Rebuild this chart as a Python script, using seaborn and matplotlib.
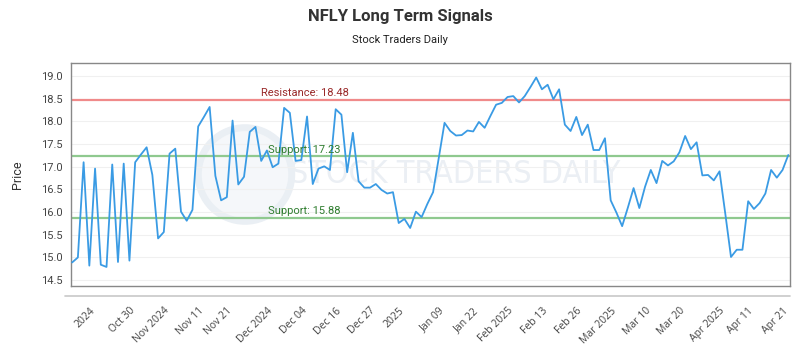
import matplotlib
matplotlib.use("Agg")
import matplotlib.pyplot as plt
from matplotlib.lines import Line2D
from matplotlib.patches import Ellipse
import numpy as np
import pandas as pd
import seaborn as sns

# ---- data ----
prices = [
    14.89, 15.00, 17.10, 14.82, 16.96, 14.84, 14.79, 17.05, 14.90, 17.07, 14.93,
    17.10, 17.27, 17.43, 16.82, 15.42, 15.56, 17.29, 17.40, 16.01, 15.81,
    16.05, 17.89, 18.10, 18.32, 16.80, 16.26, 16.33, 18.02, 16.61, 16.78, 17.77,
    17.88, 17.13, 17.36, 16.99, 17.07, 18.30, 18.19, 17.13, 17.15, 18.11,
    16.62, 16.96, 17.01, 16.93, 18.27, 18.15, 16.88, 17.75, 16.68, 16.54, 16.54,
    16.62, 16.49, 16.41, 16.44, 15.76, 15.85, 15.65, 16.01, 15.89, 16.18,
    16.44, 17.20, 17.97, 17.79, 17.69, 17.70, 17.80, 17.78, 17.99, 17.86, 18.12,
    18.37, 18.41, 18.54, 18.56, 18.42, 18.56, 18.76, 18.97, 18.71, 18.81,
    18.49, 18.71, 17.93, 17.79, 18.10, 17.70, 17.93, 17.37, 17.37, 17.63, 16.26,
    15.99, 15.69, 16.10, 16.53, 16.09, 16.56, 16.93, 16.64, 17.13, 17.03,
    17.12, 17.32, 17.68, 17.39, 17.54, 16.81, 16.82, 16.70, 16.90, 15.97, 15.01,
    15.17, 15.17, 16.24, 16.07, 16.20, 16.41, 16.93, 16.76, 16.93, 17.26,
]
tick_labels = ["2024", "Oct 30", "Nov 2024", "Nov 11", "Nov 21", "Dec 2024",
               "Dec 04", "Dec 16", "Dec 27", "2025", "Jan 09", "Jan 22",
               "Feb 2025", "Feb 13", "Feb 26", "Mar 2025", "Mar 10", "Mar 20",
               "Apr 2025", "Apr 11", "Apr 21"]
tick_index = [3, 10, 16, 22, 27, 34, 40, 46, 52, 57, 64, 70, 76, 82, 88, 94,
              100, 106, 113, 118, 124]
resistance = 18.48
supports = [17.23, 15.88]
y_ticks = [14.5, 15.0, 15.5, 16.0, 16.5, 17.0, 17.5, 18.0, 18.5, 19.0]

df = pd.DataFrame({"idx": np.arange(len(prices)), "price": prices})

sns.set_theme(style="white")
plt.rcParams["font.family"] = ["Roboto", "DejaVu Sans"]

fig = plt.figure(figsize=(8, 3.5), dpi=100)
ax = fig.add_axes([71 / 800, 1 - 286 / 350, 719 / 800, 223 / 350])

# faint watermark
ax.text(0.535, 0.5, "STOCK TRADERS DAILY", transform=ax.transAxes,
        fontsize=23, color="#ebeff4", ha="center", va="center",
        fontstretch="condensed", zorder=0, family=["DejaVu Sans"])
ax.add_patch(Ellipse((0.242, 0.5), 0.13, 0.42, transform=ax.transAxes,
                     facecolor="#f5f7fa", edgecolor="#eaeff4", lw=5,
                     zorder=0))

for yt in y_ticks:
    ax.axhline(yt, color="#f0f0f0", lw=0.8, zorder=1)

ax.axhline(resistance, color="#f08a8a", lw=1.6, zorder=2)
for s in supports:
    ax.axhline(s, color="#8fc98f", lw=1.6, zorder=2)

sns.lineplot(data=df, x="idx", y="price", ax=ax, color="#3a9be4",
             linewidth=1.3, zorder=3)

ax.text((261 - 71) / 719, resistance + 0.04, f"Resistance: {resistance:.2f}",
        transform=ax.get_yaxis_transform(), color="#9a2a2a", fontsize=8,
        va="bottom", ha="left")
for s in supports:
    ax.text((268 - 71) / 719, s + 0.04, f"Support: {s:.2f}",
            transform=ax.get_yaxis_transform(), color="#2f7d2f", fontsize=8,
            va="bottom", ha="left")

ax.set_xlim(-0.2, 125.3)
ax.set_ylim(14.37, 19.29)
ax.set_yticks(y_ticks)
ax.set_yticklabels([f"{v:.1f}" for v in y_ticks], fontsize=8, color="#444444")
ax.set_xticks(tick_index)
ax.set_xticklabels(tick_labels, rotation=45, ha="right",
                   rotation_mode="anchor", fontsize=7.5, color="#444444",
                   family=["Open Sans", "DejaVu Sans"])
ax.tick_params(axis="x", length=0, pad=14)
ax.tick_params(axis="y", length=0, pad=6)
ax.set_xlabel("")
ax.set_ylabel("Price", fontsize=9, color="#333333", labelpad=12)

for sp in ax.spines.values():
    sp.set_color("#888888")
    sp.set_linewidth(1.0)

fig.add_artist(Line2D([65 / 800, 790 / 800], [1 - 296 / 350, 1 - 296 / 350],
                      transform=fig.transFigure, color="#c8c8c8", lw=1.2))

fig.text(0.5, 1 - 16 / 350, "NFLY Long Term Signals", ha="center",
         va="center", fontsize=12, fontweight="bold", color="#333333")
fig.text(0.5, 1 - 40 / 350, "Stock Traders Daily", ha="center",
         va="center", fontsize=8, color="#222222")

fig.savefig("out.png", dpi=100)
